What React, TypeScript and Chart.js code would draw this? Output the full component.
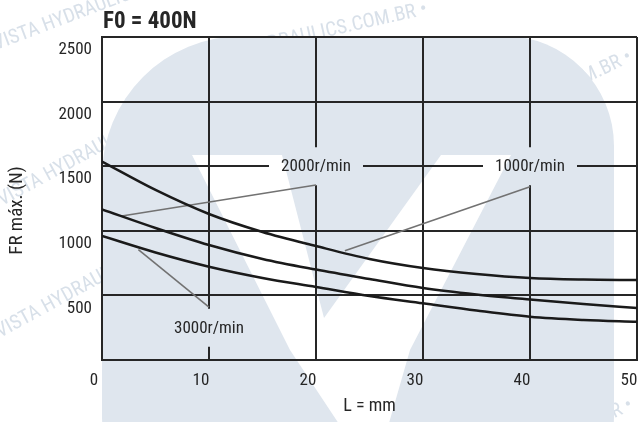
import React, { useEffect, useRef } from "react";
import { Chart, registerables } from "chart.js";

Chart.register(...registerables);

// ---- data ----
const lengths = [0, 5, 10, 15, 20, 25, 30, 35, 40, 45, 50];
const fr1000 = [1536, 1316, 1130, 991, 882, 782, 712, 666, 635, 623, 619];
const fr2000 = [1166, 1022, 890, 782, 700, 627, 557, 507, 468, 433, 402];
const fr3000 = [960, 832, 722, 635, 565, 495, 439, 383, 335, 310, 296];

const speedLabels = ["1000r/min", "2000r/min", "3000r/min"];
const labelL = [40, 20, 10];
const labelFR = [1500, 1500, 250];
const leaderStartL = [40, 20, 10];
const leaderStartFR = [1341, 1355, 410];
const leaderEndL = [22.7, 1.7, 3.4];
const leaderEndFR = [845, 1112, 855];

const xTicks = [0, 10, 20, 30, 40, 50];
const xTickLabels = ["0", "10", "20", "30", "40", "50"];
const yTicks = [0, 500, 1000, 1500, 2000, 2500];
const yTickLabels = ["", "500", "1000", "1500", "2000", "2500"];

const chartTitle = "F0 = 400N";
const xTitle = "L = mm";
const yTitle = "FR máx. (N)";
const watermarkText = "VISTA HYDRAULICS.COM.BR •";

const FONT = "'Roboto Condensed', 'Liberation Sans Narrow', 'DejaVu Sans Condensed', sans-serif";
const INK = "#262626";

const pts = (xs: number[], ys: number[]) => xs.map((x, i) => ({ x, y: ys[i] }));

const drawWatermark = (ctx: CanvasRenderingContext2D) => {
  ctx.save();
  // faint text watermark (same tint as the logo)
  ctx.fillStyle = "#d8e0e9";
  ctx.font = `20px 'Roboto Condensed', sans-serif`;
  const marks: [number, number, number][] = [
    [-4, 50, -0.36],
    [196, 66, -0.22],
    [2, 206, -0.5],
    [419, 164, -0.45],
    [0, 338, -0.5],
    [420, 512, -0.45],
  ];
  for (const [mx, my, r] of marks) {
    ctx.save();
    ctx.translate(mx, my);
    ctx.rotate(r);
    ctx.fillText(watermarkText, 0, 0);
    ctx.restore();
  }
  // big rounded logo shape
  ctx.fillStyle = "#dfe6ee";
  ctx.beginPath();
  (ctx as any).roundRect(102, 36, 512, 470, [140, 110, 90, 90]);
  ctx.fill();
  // white "V" cut-out
  ctx.fillStyle = "#ffffff";
  ctx.beginPath();
  ctx.moveTo(192, 155);
  ctx.lineTo(282, 155);
  ctx.lineTo(324, 318);
  ctx.lineTo(441, 155);
  ctx.lineTo(511, 155);
  ctx.lineTo(410, 350);
  ctx.lineTo(387, 430);
  ctx.lineTo(343, 430);
  ctx.lineTo(290, 350);
  ctx.closePath();
  ctx.fill();
  ctx.restore();
};

const annotPlugin = {
  id: "annot",
  beforeDraw(chart: any) {
    const { ctx, scales } = chart;
    const x = scales.x;
    const y = scales.y;
    drawWatermark(ctx);
    ctx.save();
    ctx.beginPath();
    ctx.rect(0, 0, chart.width, chart.height);
    for (let i = 0; i < speedLabels.length; i++) {
      const cx = x.getPixelForValue(labelL[i]);
      const cy = y.getPixelForValue(labelFR[i]);
      ctx.rect(cx - 47, cy - 19, 94, 38);
    }
    ctx.clip("evenodd");
  },
  beforeDatasetsDraw(chart: any) {
    chart.ctx.restore();
  },
  afterDraw(chart: any) {
    const { ctx, scales, chartArea } = chart;
    const x = scales.x;
    const y = scales.y;
    ctx.save();
    ctx.fillStyle = INK;
    ctx.textAlign = "center";
    ctx.textBaseline = "middle";
    ctx.font = `17px ${FONT}`;
    for (let i = 0; i < speedLabels.length; i++) {
      ctx.fillText(speedLabels[i], x.getPixelForValue(labelL[i]), y.getPixelForValue(labelFR[i]) + 1);
    }
    // axis title for FR, rotated
    ctx.save();
    ctx.translate(17, (chartArea.top + chartArea.bottom) / 2 + 12);
    ctx.rotate(-Math.PI / 2);
    ctx.font = `19px ${FONT}`;
    ctx.fillText(yTitle, 0, 0);
    ctx.restore();
    ctx.textAlign = "left";
    ctx.textBaseline = "alphabetic";
    ctx.font = `bold 23px ${FONT}`;
    ctx.fillText(chartTitle, chartArea.left + 1, 28);
    ctx.restore();
  },
};

export default function App() {
  const ref = useRef<HTMLCanvasElement>(null);
  useEffect(() => {
    if (!ref.current) return;
    const curve = (data: number[]) => ({
      data: pts(lengths, data),
      borderColor: "#1a1a1a",
      borderWidth: 2.5,
      pointRadius: 0,
      cubicInterpolationMode: "monotone" as const,
      fill: false,
    });
    const leader = (i: number) => ({
      data: [
        { x: leaderStartL[i], y: leaderStartFR[i] },
        { x: leaderEndL[i], y: leaderEndFR[i] },
      ],
      borderColor: "#727272",
      borderWidth: 1.6,
      pointRadius: 0,
      fill: false,
    });
    const tickFont = { family: FONT, size: 17 };
    const chart = new Chart(ref.current, {
      type: "line",
      data: {
        datasets: [curve(fr1000), curve(fr2000), curve(fr3000), leader(0), leader(1), leader(2)],
      },
      options: {
        responsive: false,
        animation: false,
        layout: { padding: { top: 37, right: 3, left: 0, bottom: 0 } },
        plugins: {
          legend: { display: false },
          tooltip: { enabled: false },
          title: { display: false },
        },
        scales: {
          x: {
            type: "linear",
            min: 0,
            max: 50,
            afterBuildTicks: (s: any) => {
              s.ticks = xTicks.map((v) => ({ value: v }));
            },
            afterFit: (s: any) => {
              s.height = 62;
              s.paddingLeft = 0;
              s.paddingRight = 0;
            },
            grid: { color: INK, lineWidth: 2, drawTicks: false },
            border: { color: INK, width: 2 },
            ticks: {
              autoSkip: false,
              maxRotation: 0,
              labelOffset: -8,
              padding: 11,
              color: INK,
              font: tickFont,
              callback: (_v: any, i: number) => xTickLabels[i],
            },
            title: {
              display: true,
              text: xTitle,
              color: INK,
              font: { family: FONT, size: 18 },
              padding: { top: 0, bottom: 5 },
            },
          },
          y: {
            type: "linear",
            min: 0,
            max: 2500,
            afterBuildTicks: (s: any) => {
              s.ticks = yTicks.map((v) => ({ value: v }));
            },
            afterFit: (s: any) => {
              s.width = 102;
              s.paddingTop = 0;
              s.paddingBottom = 0;
            },
            grid: { color: INK, lineWidth: 2, drawTicks: false },
            border: { color: INK, width: 2 },
            ticks: {
              autoSkip: false,
              labelOffset: 13,
              padding: 10,
              color: INK,
              font: tickFont,
              callback: (_v: any, i: number) => yTickLabels[i],
            },
            title: { display: false },
          },
        },
      },
      plugins: [annotPlugin],
    } as any);
    return () => chart.destroy();
  }, []);
  return (
    <div style={{ position: "fixed", left: 0, top: 0, width: 640, height: 422, background: "#fff" }}>
      <canvas ref={ref} width={640} height={422} style={{ width: 640, height: 422 }} />
    </div>
  );
}
